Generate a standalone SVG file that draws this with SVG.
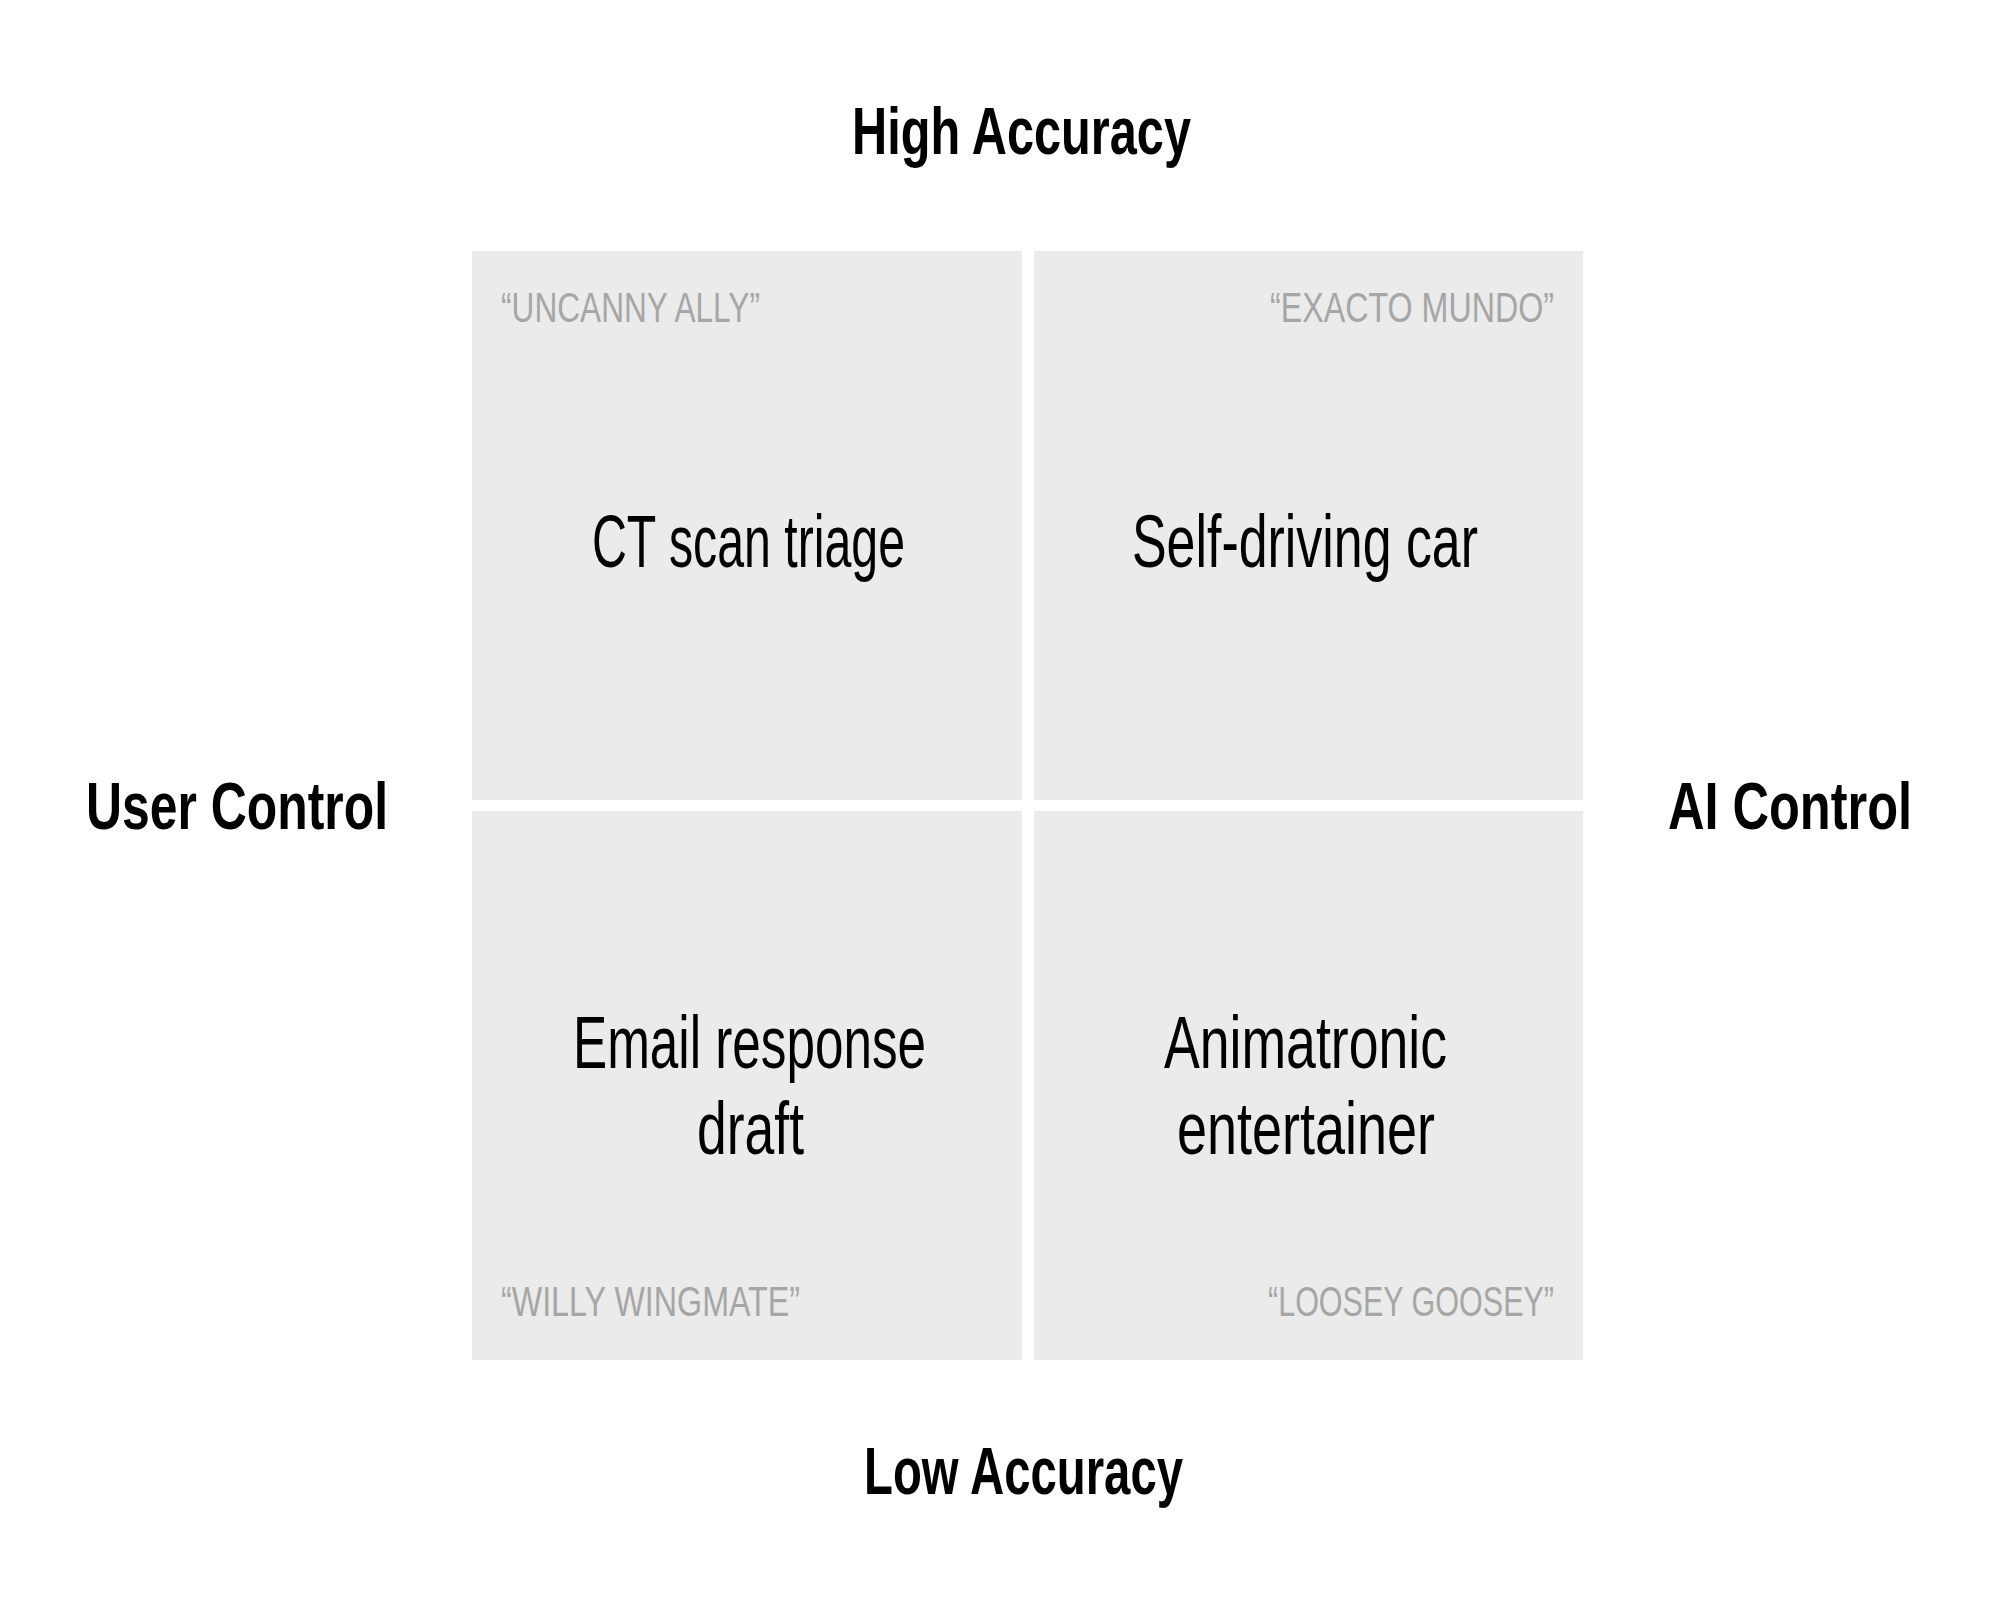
<svg xmlns="http://www.w3.org/2000/svg" width="1999" height="1599" viewBox="0 0 1999 1599">
<style>
.box{fill:#ebebeb}
.axis{font-family:"Liberation Sans Narrow","Liberation Sans","DejaVu Sans",sans-serif;font-weight:bold;font-size:67px;fill:#000}
.main{font-family:"Liberation Sans Narrow","Liberation Sans","DejaVu Sans",sans-serif;font-size:74px;fill:#000}
.tag{font-family:"Liberation Sans Narrow","Liberation Sans","DejaVu Sans",sans-serif;font-size:43px;fill:#a6a6a6}
</style>
<rect width="1999" height="1599" fill="#ffffff"/>
<g id="axis-high"><text class="axis" x="852" y="154" textLength="339" lengthAdjust="spacingAndGlyphs">High Accuracy</text></g>
<g id="axis-low"><text class="axis" x="864" y="1494" textLength="319" lengthAdjust="spacingAndGlyphs">Low Accuracy</text></g>
<g id="axis-user"><text class="axis" x="86" y="829" textLength="302" lengthAdjust="spacingAndGlyphs">User Control</text></g>
<g id="axis-ai"><text class="axis" x="1668" y="829" textLength="244" lengthAdjust="spacingAndGlyphs">AI Control</text></g>
<g id="q-uncanny">
<rect class="box" x="472" y="251" width="550" height="549"/>
<text class="tag" x="501" y="322" textLength="259" lengthAdjust="spacingAndGlyphs">“UNCANNY ALLY”</text>
<text class="main" x="592" y="567" textLength="313" lengthAdjust="spacingAndGlyphs">CT scan triage</text>
</g>
<g id="q-exacto">
<rect class="box" x="1034" y="251" width="549" height="549"/>
<text class="tag" x="1270" y="322" textLength="284" lengthAdjust="spacingAndGlyphs">“EXACTO MUNDO”</text>
<text class="main" x="1132" y="567" textLength="346" lengthAdjust="spacingAndGlyphs">Self-driving car</text>
</g>
<g id="q-willy">
<rect class="box" x="472" y="811" width="550" height="549"/>
<text class="main" x="573" y="1068" textLength="353" lengthAdjust="spacingAndGlyphs">Email response</text>
<text class="main" x="697" y="1154" textLength="107" lengthAdjust="spacingAndGlyphs">draft</text>
<text class="tag" x="501" y="1316" textLength="299" lengthAdjust="spacingAndGlyphs">“WILLY WINGMATE”</text>
</g>
<g id="q-loosey">
<rect class="box" x="1034" y="811" width="549" height="549"/>
<text class="main" x="1164" y="1068" textLength="283" lengthAdjust="spacingAndGlyphs">Animatronic</text>
<text class="main" x="1177" y="1154" textLength="258" lengthAdjust="spacingAndGlyphs">entertainer</text>
<text class="tag" x="1268" y="1316" textLength="286" lengthAdjust="spacingAndGlyphs">“LOOSEY GOOSEY”</text>
</g>
</svg>
